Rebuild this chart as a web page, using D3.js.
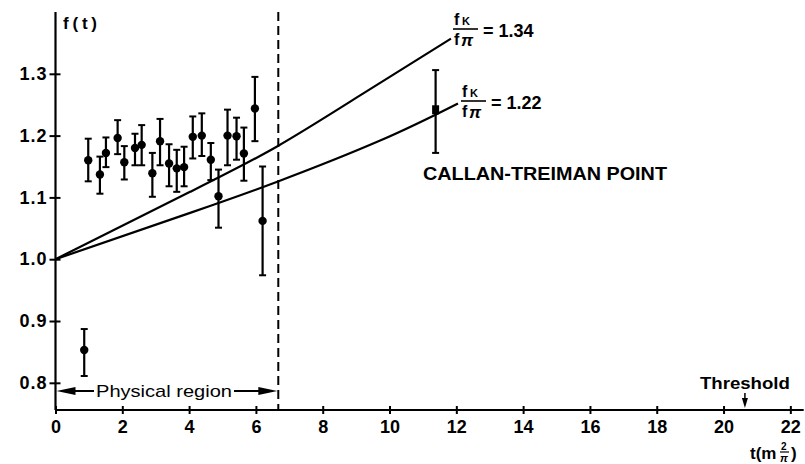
<!DOCTYPE html>
<html>
<head>
<meta charset="utf-8">
<script src="https://cdn.jsdelivr.net/npm/d3@7"></script>
<style>
  html, body { margin: 0; padding: 0; background: #fff; }
  svg { display: block; }
  text { font-family: "Liberation Sans", Arial, sans-serif; fill: #000; }
</style>
</head>
<body>
<svg id="chart" width="805" height="464"></svg>
<script>
// ---- data ----
const xTicks = [0, 2, 4, 6, 8, 10, 12, 14, 16, 18, 20, 22];
const xTickLabels = ["0", "2", "4", "6", "8", "10", "12", "14", "16", "18", "20", "22"];
const yTicks = [0.8, 0.9, 1.0, 1.1, 1.2, 1.3];
const yTickLabels = ["0.8", "0.9", "1.0", "1.1", "1.2", "1.3"];

// measured points: t, f(t), upper and lower error limits
const pointT  = [0.86, 0.98, 1.33, 1.51, 1.86, 2.06, 2.38, 2.58, 2.90, 3.13, 3.40, 3.63, 3.85, 4.11, 4.38, 4.65, 4.88, 5.15, 5.42, 5.64, 5.97, 6.20];
const pointF  = [0.853, 1.160, 1.137, 1.172, 1.196, 1.157, 1.180, 1.185, 1.139, 1.191, 1.155, 1.147, 1.149, 1.198, 1.200, 1.161, 1.102, 1.200, 1.199, 1.171, 1.244, 1.062];
const pointHi = [0.887, 1.195, 1.166, 1.197, 1.225, 1.183, 1.203, 1.217, 1.172, 1.227, 1.186, 1.177, 1.182, 1.231, 1.236, 1.188, 1.145, 1.242, 1.229, 1.213, 1.295, 1.150];
const pointLo = [0.811, 1.126, 1.106, 1.149, 1.170, 1.129, 1.152, 1.152, 1.101, 1.152, 1.118, 1.109, 1.118, 1.163, 1.167, 1.128, 1.051, 1.152, 1.161, 1.127, 1.191, 0.974];

// Callan-Treiman point
const ctT = [11.38];
const ctF = [1.241];
const ctHi = [1.306];
const ctLo = [1.172];

// curves fK/fπ = 1.34 and 1.22
const curve134T = [0, 4.03, 6.62, 9.12, 11.84];
const curve134F = [1.0, 1.109, 1.182, 1.265, 1.357];
const curve122T = [0, 4.03, 6.62, 9.72, 12.05];
const curve122F = [1.0, 1.075, 1.125, 1.192, 1.252];

const physicalLimit = [6.67];
const thresholdT = [20.64];

// ---- drawing ----
const svg = d3.select("#chart");
svg.append("rect").attr("width", 805).attr("height", 464).attr("fill", "#fff");

const x = d3.scaleLinear().domain([0, 22.4]).range([55.5, 803.7]);
const y = d3.scaleLinear().domain([0.756, 1.40]).range([410, 12]);

const ink = "#000";

// axes lines
svg.append("line").attr("x1", x(0)).attr("x2", x(0)).attr("y1", y(1.40)).attr("y2", y(0.756))
  .attr("stroke", ink).attr("stroke-width", 2.2);
svg.append("line").attr("x1", x(0)).attr("x2", x(22.4)).attr("y1", y(0.756)).attr("y2", y(0.756))
  .attr("stroke", ink).attr("stroke-width", 2.2);

// x axis ticks (crossing)
const xAxis = d3.axisBottom(x).tickValues(xTicks).tickSize(0).tickPadding(0)
  .tickFormat((d, i) => xTickLabels[i]);
const gx = svg.append("g").attr("transform", `translate(0,${y(0.756)})`).call(xAxis);
gx.select(".domain").remove();
gx.selectAll(".tick text").attr("y", 23).attr("dy", null).attr("font-size", 18).attr("font-weight", "bold")
  .attr("font-family", "Liberation Sans, Arial, sans-serif").attr("fill", ink);
gx.selectAll(".tick").append("line").attr("y1", -4).attr("y2", 4).attr("stroke", ink).attr("stroke-width", 2);

// y axis ticks
const yAxis = d3.axisLeft(y).tickValues(yTicks).tickSize(0).tickPadding(0)
  .tickFormat((d, i) => yTickLabels[i]);
const gy = svg.append("g").attr("transform", `translate(${x(0)},0)`).call(yAxis);
gy.select(".domain").remove();
gy.selectAll(".tick text").attr("x", -8).attr("font-size", 18).attr("font-weight", "bold")
  .attr("letter-spacing", 1)
  .attr("font-family", "Liberation Sans, Arial, sans-serif").attr("fill", ink);
gy.selectAll(".tick").append("line").attr("x1", -6).attr("x2", 5).attr("stroke", ink).attr("stroke-width", 2);

// axis titles
svg.append("text").attr("x", 63).attr("y", 29).attr("font-size", 17).attr("font-weight", "bold")
  .attr("textLength", 34).attr("lengthAdjust", "spacing").text("f(t)");
const xt = svg.append("g");
xt.append("text").attr("x", 750).attr("y", 459).attr("font-size", 17).attr("font-weight", "bold").text("t(m");
xt.append("text").attr("x", 781).attr("y", 450).attr("font-size", 10).attr("font-weight", "bold").text("2");
xt.append("line").attr("x1", 780).attr("x2", 789).attr("y1", 452).attr("y2", 452).attr("stroke", ink).attr("stroke-width", 1.2);
xt.append("text").attr("x", 780).attr("y", 462).attr("font-size", 11).attr("font-weight", "bold").attr("font-style", "italic").text("π");
xt.append("text").attr("x", 791).attr("y", 459).attr("font-size", 17).attr("font-weight", "bold").text(")");

// dashed physical limit line
svg.selectAll("line.phys").data(physicalLimit).enter().append("line").attr("class", "phys")
  .attr("x1", d => x(d)).attr("x2", d => x(d)).attr("y1", y(1.40)).attr("y2", y(0.756))
  .attr("stroke", ink).attr("stroke-width", 2).attr("stroke-dasharray", "9,5");

// curves
const line = d3.line().x(d => x(d[0])).y(d => y(d[1])).curve(d3.curveNatural);
[[curve134T, curve134F], [curve122T, curve122F]].forEach(([ts, fs]) => {
  svg.append("path").datum(ts.map((t, i) => [t, fs[i]])).attr("d", line)
    .attr("fill", "none").attr("stroke", ink).attr("stroke-width", 2.2);
});

// error bars + points
const pts = pointT.map((t, i) => ({ t, f: pointF[i], hi: pointHi[i], lo: pointLo[i] }));
const cap = 3.5;
const eb = svg.append("g");
pts.forEach(p => {
  eb.append("line").attr("x1", x(p.t)).attr("x2", x(p.t)).attr("y1", y(p.hi)).attr("y2", y(p.lo))
    .attr("stroke", ink).attr("stroke-width", 2.2);
  [p.hi, p.lo].forEach(v => eb.append("line").attr("x1", x(p.t) - cap).attr("x2", x(p.t) + cap)
    .attr("y1", y(v)).attr("y2", y(v)).attr("stroke", ink).attr("stroke-width", 2));
});
svg.append("g").selectAll("circle").data(pts).enter().append("circle")
  .attr("cx", d => x(d.t)).attr("cy", d => y(d.f)).attr("r", 4.2).attr("fill", ink);

// Callan-Treiman point
const ct = ctT.map((t, i) => ({ t, f: ctF[i], hi: ctHi[i], lo: ctLo[i] }));
ct.forEach(p => {
  eb.append("line").attr("x1", x(p.t)).attr("x2", x(p.t)).attr("y1", y(p.hi)).attr("y2", y(p.lo))
    .attr("stroke", ink).attr("stroke-width", 2.2);
  [p.hi, p.lo].forEach(v => eb.append("line").attr("x1", x(p.t) - cap).attr("x2", x(p.t) + cap)
    .attr("y1", y(v)).attr("y2", y(v)).attr("stroke", ink).attr("stroke-width", 2));
  svg.append("rect").attr("x", x(p.t) - 3.5).attr("y", y(p.f) - 5).attr("width", 7).attr("height", 9).attr("fill", ink);
});

// curve labels
function fracLabel(x0, barY, value) {
  const g = svg.append("g");
  g.append("text").attr("x", x0 + 1).attr("y", barY - 4).attr("font-size", 16).attr("font-weight", "bold").text("f");
  g.append("text").attr("x", x0 + 9).attr("y", barY - 4).attr("font-size", 11).attr("font-weight", "bold").text("K");
  g.append("line").attr("x1", x0).attr("x2", x0 + 25).attr("y1", barY).attr("y2", barY).attr("stroke", ink).attr("stroke-width", 1.6);
  g.append("text").attr("x", x0 + 1).attr("y", barY + 16).attr("font-size", 16).attr("font-weight", "bold").text("f");
  g.append("text").attr("x", x0 + 8).attr("y", barY + 17).attr("font-size", 17).attr("font-weight", "bold").attr("font-style", "italic").text("π");
  g.append("text").attr("x", x0 + 30).attr("y", barY + 8).attr("font-size", 18).attr("font-weight", "bold").text("= " + value);
}
fracLabel(453, 29, "1.34");
fracLabel(461, 101, "1.22");

svg.append("text").attr("x", 423).attr("y", 180).attr("font-size", 18).attr("font-weight", "bold")
  .attr("textLength", 244).attr("lengthAdjust", "spacingAndGlyphs").text("CALLAN-TREIMAN POINT");

// physical region annotation
const ay = 391;
const arr = svg.append("g");
arr.append("line").attr("x1", x(0) + 15).attr("x2", 94).attr("y1", ay).attr("y2", ay).attr("stroke", ink).attr("stroke-width", 2);
arr.append("path").attr("d", `M${x(0) + 1},${ay} L${x(0) + 20},${ay - 4} L${x(0) + 20},${ay + 4} Z`).attr("fill", ink);
arr.append("text").attr("x", 96).attr("y", 397).attr("font-size", 17)
  .attr("textLength", 136).attr("lengthAdjust", "spacingAndGlyphs").text("Physical region");
arr.append("line").attr("x1", 234).attr("x2", x(physicalLimit[0]) - 15).attr("y1", ay).attr("y2", ay).attr("stroke", ink).attr("stroke-width", 2);
arr.append("path").attr("d", `M${x(physicalLimit[0]) - 1},${ay} L${x(physicalLimit[0]) - 20},${ay - 4} L${x(physicalLimit[0]) - 20},${ay + 4} Z`).attr("fill", ink);

// threshold
thresholdT.forEach(t => {
  svg.append("text").attr("x", x(t)).attr("y", 389).attr("text-anchor", "middle").attr("font-size", 16).attr("font-weight", "bold")
    .attr("textLength", 90).attr("lengthAdjust", "spacingAndGlyphs").text("Threshold");
  svg.append("line").attr("x1", x(t)).attr("x2", x(t)).attr("y1", 393).attr("y2", 400).attr("stroke", ink).attr("stroke-width", 1.5);
  svg.append("path").attr("d", `M${x(t) - 3},${398} L${x(t) + 3},${398} L${x(t)},${408} Z`).attr("fill", ink);
});
</script>
</body>
</html>
